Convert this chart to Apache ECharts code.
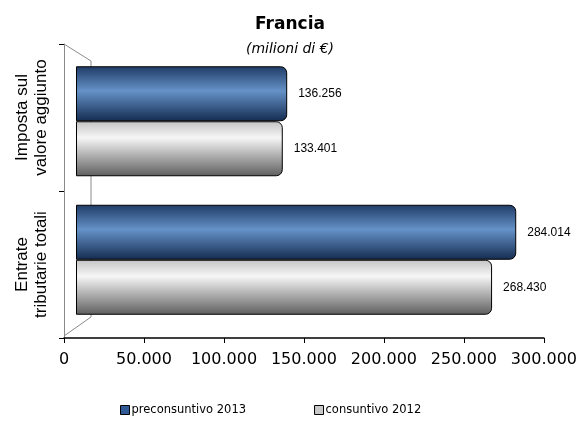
<!DOCTYPE html>
<html><head><meta charset="utf-8">
<script src="https://cdn.jsdelivr.net/npm/echarts@6/dist/echarts.min.js"></script>
<style>html,body{margin:0;padding:0;background:#fff}#c{width:580px;height:421px}</style>
</head><body><div id="c"></div>
<script>
var categories = ["Imposta sul\nvalore aggiunto", "Entrate\ntributarie totali"];
var seriesNames = ["preconsuntivo 2013", "consuntivo 2012"];
var preconsuntivo2013 = [136256, 284014];
var consuntivo2012 = [133401, 268430];
var xMin = 0, xMax = 300000, xStep = 50000;

function fmt(v){ return v.toString().replace(/\B(?=(\d{3})+(?!\d))/g, "."); }

var blueGrad = new echarts.graphic.LinearGradient(0,0,0,1,[
  {offset:0,color:'#1f3b66'},{offset:0.45,color:'#6592c8'},{offset:1,color:'#142b4f'}]);
var greyGrad = new echarts.graphic.LinearGradient(0,0,0,1,[
  {offset:0,color:'#c4c4c4'},{offset:0.3,color:'#f6f6f6'},{offset:1,color:'#5e5e5e'}]);

var labelCfg = {show:true, position:'right', distance:11, fontFamily:'Liberation Sans', fontSize:12, color:'#000',
  formatter:function(p){return fmt(p.value);}};

var chart = echarts.init(document.getElementById('c'), null, {renderer:'canvas'});
chart.setOption({
  animation:false,
  title:{text:'Francia', subtext:'(milioni di €)', left:'center', top:11, itemGap:9,
    textStyle:{fontFamily:'DejaVu Sans', fontWeight:'bold', fontSize:17, color:'#000'},
    subtextStyle:{fontFamily:'DejaVu Sans', fontStyle:'italic', fontSize:14, color:'#000'}},
  legend:{bottom:0, left:115, itemGap:68, itemWidth:9, itemHeight:9, icon:'rect',
    textStyle:{fontFamily:'DejaVu Sans', fontSize:11.5, color:'#000', padding:[0,0,0,-3]},
    data:[{name:seriesNames[0], itemStyle:{color:'#2f5a95', borderColor:'#000', borderWidth:1}},
          {name:seriesNames[1], itemStyle:{color:'#c8c8c8', borderColor:'#000', borderWidth:1}}]},
  graphic:[{type:'polyline', silent:true, z:0,
    shape:{points:[[64,44],[91,61],[91,317],[64,336]]},
    style:{stroke:'#8a8a8a', lineWidth:1, fill:null}}],
  grid:[{left:64, right:34, top:44, bottom:83},
        {left:76, right:39, top:52, bottom:92}],
  xAxis:[{type:'value', gridIndex:0, min:xMin, max:xMax, interval:xStep,
    axisLine:{show:true, lineStyle:{color:'#000', width:1.5}},
    axisTick:{show:true, length:5, lineStyle:{color:'#000'}},
    splitLine:{show:false},
    axisLabel:{fontFamily:'DejaVu Sans', fontSize:16, color:'#000', margin:14,
      formatter:function(v){return fmt(v);}}},
    {type:'value', gridIndex:1, min:xMin, max:xMax, interval:xStep, show:false, splitLine:{show:false}}],
  yAxis:[{type:'category', gridIndex:0, data:categories, inverse:true,
    axisLine:{show:true, lineStyle:{color:'#8a8a8a', width:1}},
    axisTick:{show:true, length:5, lineStyle:{color:'#000'}},
    axisLabel:{interval:0, hideOverlap:false, rotate:90, fontFamily:'Liberation Sans', fontSize:17, color:'#000', margin:13, lineHeight:19, align:'center'}},
    {type:'category', gridIndex:1, data:categories, inverse:true, show:false}],
  series:[
    {name:seriesNames[0], type:'bar', xAxisIndex:1, yAxisIndex:1, data:preconsuntivo2013, barWidth:55, barGap:'0%',
     itemStyle:{color:blueGrad, borderColor:'#000', borderWidth:1, borderRadius:[0,6,6,0]}, label:labelCfg},
    {name:seriesNames[1], type:'bar', xAxisIndex:1, yAxisIndex:1, data:consuntivo2012, barWidth:55, barGap:'0%',
     itemStyle:{color:greyGrad, borderColor:'#000', borderWidth:1, borderRadius:[0,6,6,0]}, label:labelCfg}
  ]
});
</script></body></html>
